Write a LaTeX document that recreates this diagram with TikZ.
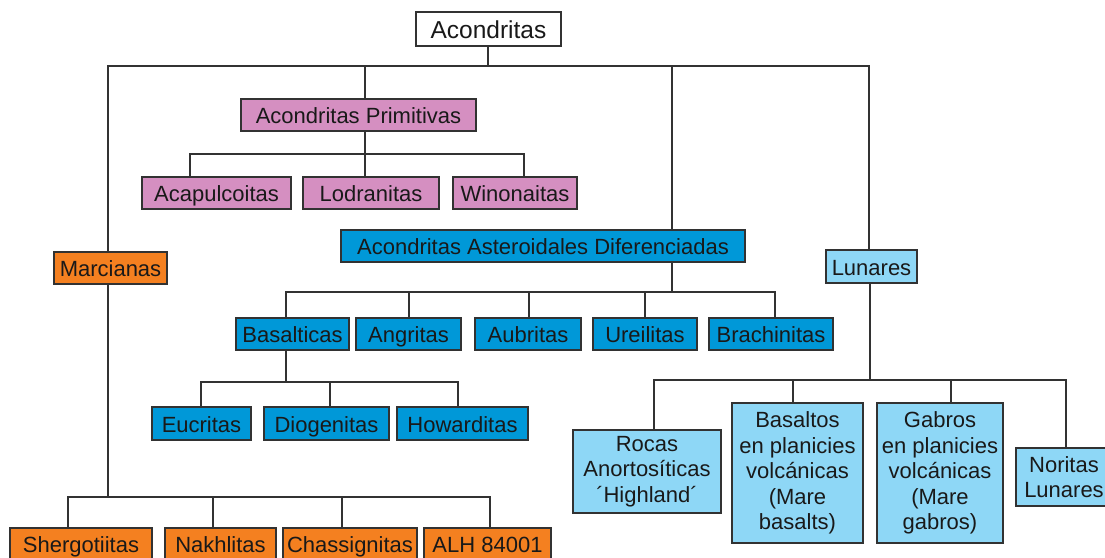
\documentclass[tikz,border=0pt]{standalone}
\usepackage{fontspec}
\setmainfont{Liberation Sans}
\definecolor{violeta}{RGB}{213,143,193}
\definecolor{naranja}{RGB}{244,128,32}
\definecolor{azul}{RGB}{0,152,216}
\definecolor{celeste}{RGB}{142,215,246}
\definecolor{linea}{RGB}{50,50,50}
\begin{document}
\begin{tikzpicture}[x=1pt,y=-1pt]
        \tikzstyle{cajabase}=[draw=linea,line width=1.3pt,minimum height=32pt,inner sep=1pt,align=center,text=black!90,font=\fontsize{22}{25.5}\selectfont]
        \tikzstyle{caja}=[cajabase,text height=17pt,text depth=0pt]
        \tikzstyle{primitiva}=[caja,fill=violeta]
        \tikzstyle{marciana}=[caja,fill=naranja]
        \tikzstyle{asteroidal}=[caja,fill=azul]
        \tikzstyle{lunar}=[caja,fill=celeste]
        \tikzstyle{lunarm}=[cajabase,fill=celeste]
        \tikzstyle{edge}=[draw=linea,line width=1.3pt]
        \useasboundingbox (0,0) rectangle (1105,557);
        % raiz
        \node [caja,fill=white,minimum width=145,minimum height=34,text height=18pt,font=\fontsize{24.5}{28}\selectfont] (acond) at (488.5,29) {Acondritas};
        % primitivas
        \node [primitiva,minimum width=235] (prim) at (358.5,115) {Acondritas Primitivas};
        \node [primitiva,minimum width=149] (acap) at (216.5,193) {Acapulcoitas};
        \node [primitiva,minimum width=136] (lodr) at (371,193) {Lodranitas};
        \node [primitiva,minimum width=124] (wino) at (515,193) {Winonaitas};
        % marcianas
        \node [marciana,minimum width=113] (marc) at (110.5,268) {Marcianas};
        \node [marciana,minimum width=142] (sherg) at (81,544) {Shergotiitas};
        \node [marciana,minimum width=111] (nakh) at (220.5,544) {Nakhlitas};
        \node [marciana,minimum width=134] (chas) at (350,544) {Chassignitas};
        \node [marciana,minimum width=127] (alh) at (487.5,544) {ALH 84001};
        % asteroidales diferenciadas
        \node [asteroidal,minimum width=404] (dif) at (543,246) {Acondritas Asteroidales Diferenciadas};
        \node [asteroidal,minimum width=113] (basa) at (292.5,334) {Basalticas};
        \node [asteroidal,minimum width=105] (angr) at (408.5,334) {Angritas};
        \node [asteroidal,minimum width=106] (aubr) at (528,334) {Aubritas};
        \node [asteroidal,minimum width=104] (ureil) at (645,334) {Ureilitas};
        \node [asteroidal,minimum width=124] (brach) at (771,334) {Brachinitas};
        \node [asteroidal,minimum width=99,minimum height=33] (eucr) at (201.5,423.5) {Eucritas};
        \node [asteroidal,minimum width=125,minimum height=33] (diog) at (326.5,423.5) {Diogenitas};
        \node [asteroidal,minimum width=131,minimum height=33] (howa) at (462.5,423.5) {Howarditas};
        % lunares
        \node [lunar,minimum width=91,minimum height=33] (luna) at (871.5,266.5) {Lunares};
        \node [lunarm,minimum width=148,minimum height=83] (roca) at (647,471.5) {Rocas\\Anortosíticas\\´Highland´};
        \node [lunarm,minimum width=131,minimum height=140] (basm) at (797.5,473) {Basaltos\\en planicies\\volcánicas\\(Mare\\basalts)};
        \node [lunarm,minimum width=126,minimum height=140] (gabm) at (940,473) {Gabros\\en planicies\\volcánicas\\(Mare\\gabros)};
        \node [lunarm,minimum width=96,minimum height=58] (nori) at (1064,477) {Noritas\\Lunares};
        % barras
        \coordinate (t0) at (488,66);
        \coordinate (t1) at (108,66);
        \coordinate (t2) at (365,66);
        \coordinate (t3) at (672,66);
        \coordinate (t4) at (869,66);
        \coordinate (p1) at (190,154);
        \coordinate (p2) at (365,154);
        \coordinate (p3) at (524,154);
        \coordinate (m1) at (68,497);
        \coordinate (m2) at (108,497);
        \coordinate (m3) at (213,497);
        \coordinate (m4) at (342,497);
        \coordinate (m5) at (490,497);
        \coordinate (d1) at (286,292);
        \coordinate (d2) at (409,292);
        \coordinate (d3) at (529,292);
        \coordinate (d4) at (645,292);
        \coordinate (d5) at (672,292);
        \coordinate (d6) at (775,292);
        \coordinate (b1) at (201,382);
        \coordinate (b2) at (286,382);
        \coordinate (b3) at (330,382);
        \coordinate (b4) at (458,382);
        \coordinate (l1) at (654,380);
        \coordinate (l2) at (793,380);
        \coordinate (l3) at (870,380);
        \coordinate (l4) at (951,380);
        \coordinate (l5) at (1066,380);
        % conexiones
        \draw[edge] (acond.south -| t0) -- (t0);
        \draw[edge] (marc.north -| t1) -- (t1) -- (t4) -- (luna.north -| t4);
        \draw[edge] (t2) -- (prim.north -| t2);
        \draw[edge] (t3) -- (dif.north -| t3);
        \draw[edge] (prim.south -| p2) -- (lodr.north -| p2);
        \draw[edge] (acap.north -| p1) -- (p1) -- (p3) -- (wino.north -| p3);
        \draw[edge] (marc.south -| m2) -- (m2);
        \draw[edge] (sherg.north -| m1) -- (m1) -- (m5) -- (alh.north -| m5);
        \draw[edge] (m3) -- (nakh.north -| m3);
        \draw[edge] (m4) -- (chas.north -| m4);
        \draw[edge] (dif.south -| d5) -- (d5);
        \draw[edge] (basa.north -| d1) -- (d1) -- (d6) -- (brach.north -| d6);
        \draw[edge] (d2) -- (angr.north -| d2);
        \draw[edge] (d3) -- (aubr.north -| d3);
        \draw[edge] (d4) -- (ureil.north -| d4);
        \draw[edge] (basa.south -| b2) -- (b2);
        \draw[edge] (eucr.north -| b1) -- (b1) -- (b4) -- (howa.north -| b4);
        \draw[edge] (b3) -- (diog.north -| b3);
        \draw[edge] (luna.south -| l3) -- (l3);
        \draw[edge] (roca.north -| l1) -- (l1) -- (l5) -- (nori.north -| l5);
        \draw[edge] (l2) -- (basm.north -| l2);
        \draw[edge] (l4) -- (gabm.north -| l4);
\end{tikzpicture}
\end{document}
